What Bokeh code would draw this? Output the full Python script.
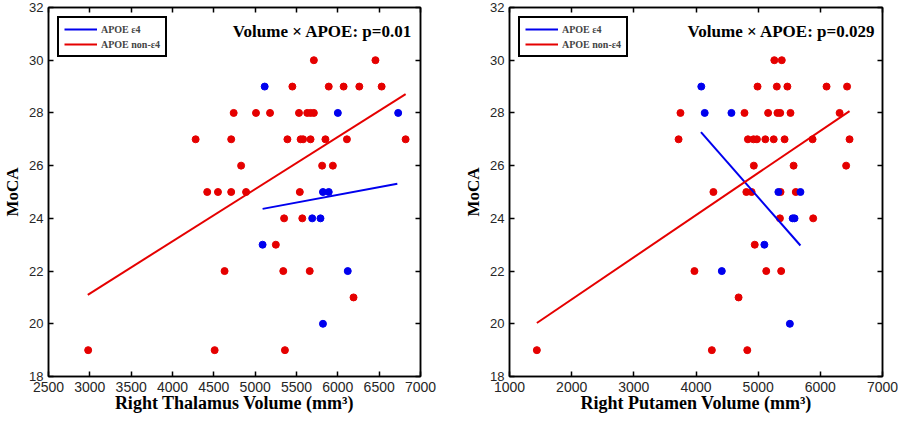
from bokeh.plotting import figure
from bokeh.models import Range1d, FixedTicker, LinearAxis, Legend, LegendItem, Label
from bokeh.layouts import row
from bokeh.embed import file_html
from bokeh.resources import INLINE

# ---------------- data: left panel (Right Thalamus) ----------------
thal_non_x = [5710, 6455,
              5450, 5890, 6070, 6260, 6530,
              4740, 5010, 5180, 5530, 5630, 5670, 5710,
              4280, 4710, 5390, 5550, 5580, 5670, 5850, 6110, 6820,
              4830, 5810, 5940,
              4420, 4550, 4710, 4890, 5540,
              5350, 5570,
              5250,
              4630, 5340, 5660,
              6190,
              2980, 4510, 5360]
thal_non_y = [30, 30,
              29, 29, 29, 29, 29,
              28, 28, 28, 28, 28, 28, 28,
              27, 27, 27, 27, 27, 27, 27, 27, 27,
              26, 26, 26,
              25, 25, 25, 25, 25,
              24, 24,
              23,
              22, 22, 22,
              21,
              19, 19, 19]
thal_e4_x = [5115, 6000, 6730, 5820, 5890, 5690, 5790, 5090, 6120, 5820]
thal_e4_y = [29, 28, 28, 25, 25, 24, 24, 23, 22, 20]
thal_fit_non_x = [2975, 6820]
thal_fit_non_y = [21.1, 28.71]
thal_fit_e4_x = [5090, 6720]
thal_fit_e4_y = [24.36, 25.31]
thal_ticks = [2500, 3000, 3500, 4000, 4500, 5000, 5500, 6000, 6500, 7000]

# ---------------- data: right panel (Right Putamen) ----------------
put_non_x = [5260, 5380,
             4990, 5300, 5470, 6100, 6430,
             3750, 4780, 5160, 5310, 5355, 5520, 6310,
             3720, 4835, 4925, 4980, 5115, 5250, 5425, 5875, 6470,
             4930, 5570, 6415,
             4280, 4810, 4895, 5360, 5605,
             5350, 5885,
             4945,
             3975, 5130, 5370,
             4685,
             1440, 4255, 4825]
put_non_y = thal_non_y
put_e4_x = [4085, 4140, 4570, 5325, 5680, 5555, 5585, 5100, 4415, 5510]
put_e4_y = [29, 28, 28, 25, 25, 24, 24, 23, 22, 20]
put_fit_non_x = [1440, 6470]
put_fit_non_y = [20.03, 28.07]
put_fit_e4_x = [4080, 5680]
put_fit_e4_y = [27.27, 22.97]
put_ticks = [1000, 2000, 3000, 4000, 5000, 6000, 7000]

y_ticks = [18, 20, 22, 24, 26, 28, 30, 32]
legend_labels = ["APOE ε4", "APOE non-ε4"]
titles = ["Volume × APOE: p=0.01", "Volume × APOE: p=0.029"]
x_labels = ["Right Thalamus Volume (mm³)", "Right Putamen Volume (mm³)"]
y_label = "MoCA"

RED = "#e50000"
BLUE = "#0000ee"
SERIF = "Liberation Serif"
SANS = "Liberation Sans"


def panel(xr, xticks, non_x, non_y, e4_x, e4_y, fnx, fny, fex, fey,
          title, xlabel, width, mbl, mbr, title_x):
    p = figure(width=width, height=415, x_range=Range1d(*xr), y_range=Range1d(18, 32),
               output_backend="svg", toolbar_location=None,
               min_border_left=mbl, min_border_right=mbr,
               min_border_top=7, min_border_bottom=36)
    p.grid.visible = False
    p.outline_line_color = "black"
    p.outline_line_width = 1.5
    p.background_fill_color = "white"
    p.border_fill_color = "white"

    p.xaxis.ticker = FixedTicker(ticks=xticks)
    p.yaxis.ticker = FixedTicker(ticks=y_ticks)
    for ax in (p.xaxis[0], p.yaxis[0]):
        ax.major_tick_in = 5
        ax.major_tick_out = 0
        ax.minor_tick_line_color = None
        ax.axis_line_color = "black"
        ax.axis_line_width = 1.5
        ax.major_tick_line_width = 1.5
        ax.major_label_text_font = SANS
        ax.major_label_text_color = "#262626"
        ax.axis_label_text_font = SERIF
        ax.axis_label_text_font_style = "bold"
        ax.axis_label_text_color = "black"
    p.xaxis.major_label_text_font_size = "14px"
    p.yaxis.major_label_text_font_size = "13px"
    p.xaxis.major_label_standoff = 5
    p.yaxis.major_label_standoff = 5
    p.xaxis.axis_label = xlabel
    p.xaxis.axis_label_text_font_size = "18px"
    p.xaxis.axis_label_standoff = -2
    p.yaxis.axis_label = y_label
    p.yaxis.axis_label_text_font_size = "17px"
    p.yaxis.axis_label_standoff = 4

    for loc, tk in (("above", xticks), ("right", y_ticks)):
        ax = LinearAxis(ticker=FixedTicker(ticks=tk), major_label_text_font_size="0px",
                        major_label_text_color=None,
                        major_label_standoff=0, major_tick_in=5, major_tick_out=0,
                        minor_tick_line_color=None, axis_line_width=1.5,
                        major_tick_line_width=1.5)
        p.add_layout(ax, loc)

    p.scatter(non_x, non_y, size=7, color=RED, marker="circle")
    p.scatter(e4_x, e4_y, size=7, color=BLUE, marker="circle")
    r_e4 = p.line(fex, fey, line_width=2, color=BLUE)
    r_non = p.line(fnx, fny, line_width=2, color=RED)

    leg = Legend(items=[LegendItem(label=legend_labels[0], renderers=[r_e4]),
                        LegendItem(label=legend_labels[1], renderers=[r_non])],
                 location="top_left", margin=9, padding=5, spacing=3,
                 glyph_width=33, glyph_height=12, label_height=12, label_standoff=4,
                 label_text_font=SERIF, label_text_font_size="10px",
                 label_text_font_style="bold",
                 border_line_color="black", border_line_width=2,
                 border_line_alpha=1.0,
                 background_fill_color="white", background_fill_alpha=1.0)
    p.add_layout(leg)

    p.add_layout(Label(x=title_x, y=31.09, text=title, text_align="right",
                       text_baseline="middle", text_font=SERIF, text_font_size="17px",
                       text_font_style="bold", text_color="black"))
    return p


p1 = panel((2500, 7000), thal_ticks, thal_non_x, thal_non_y, thal_e4_x, thal_e4_y,
           thal_fit_non_x, thal_fit_non_y, thal_fit_e4_x, thal_fit_e4_y,
           titles[0], x_labels[0], 460, 45, 40, 6899)
p2 = panel((1000, 7000), put_ticks, put_non_x, put_non_y, put_e4_x, put_e4_y,
           put_fit_non_x, put_fit_non_y, put_fit_e4_x, put_fit_e4_y,
           titles[1], x_labels[1], 438, 49, 16, 6886)

layout = row(p1, p2)
open("out.html", "w").write(file_html(layout, INLINE))
